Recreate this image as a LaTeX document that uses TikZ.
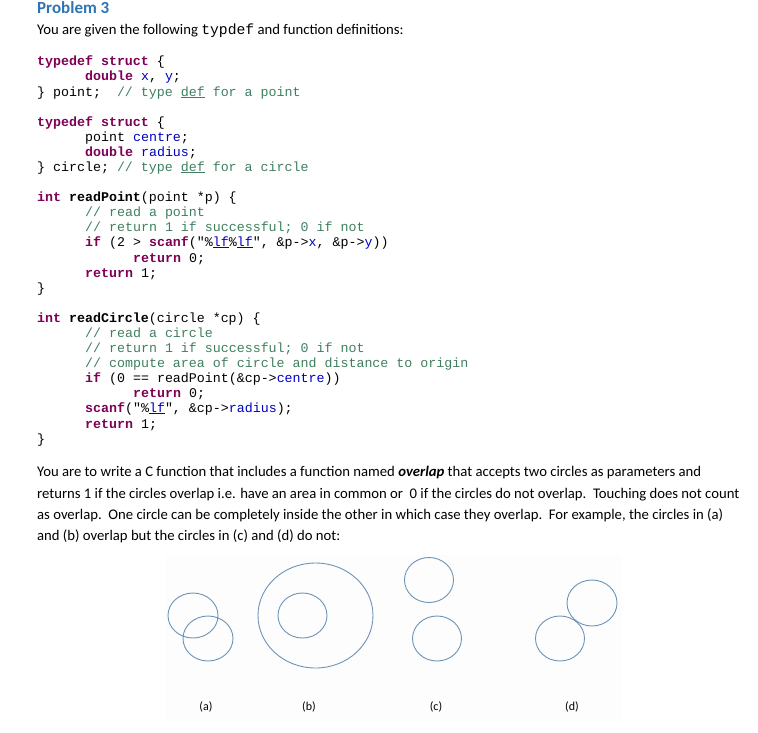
\documentclass[tikz,border=0pt]{standalone}
\usepackage{fontspec}
\setmainfont{Carlito}
\setmonofont{Liberation Mono}
\definecolor{kw}{HTML}{7F0055}
\definecolor{idb}{HTML}{0000C0}
\definecolor{cm}{HTML}{3F7F5F}
\definecolor{ttl}{HTML}{2E74B5}
\definecolor{circ}{HTML}{6F93B8}
\newcommand{\kw}[1]{\textcolor{kw}{\textbf{#1}}}
\newcommand{\idb}[1]{\textcolor{idb}{#1}}
\newcommand{\cmt}[1]{\textcolor{cm}{#1}}
\newcommand{\ug}[1]{\textcolor{cm}{\underline{#1}}}
\newcommand{\ub}[1]{\textcolor{idb}{\underline{#1}}}
\begin{document}
\begin{tikzpicture}[x=1pt,y=-1pt,
  codeline/.style={anchor=base west,inner sep=0pt,font=\fontsize{13.3}{15}\ttfamily},
  prose/.style={anchor=base west,inner sep=0pt,font=\fontsize{14.7}{17}\selectfont},
  ring/.style={draw=circ,line width=0.9pt},
  lbl/.style={inner sep=0pt,font=\fontsize{12}{14}\selectfont}]
\useasboundingbox (0,0) rectangle (758,732);
\fill[gray!1.5] (165,555) rectangle (622,722);
\node[anchor=base west,inner sep=0pt,font=\fontsize{17}{20}\bfseries,text=ttl] (title) at (37,13) {Problem 3};
\node[prose] (intro) at (37,34) {You are given the following \texttt{typdef} and function definitions:};
% code
\def\cx#1{37+8*#1}
\node[codeline] (l1) at (\cx{0},65) {\kw{typedef} \kw{struct} \{};
\node[codeline] (l2) at (\cx{6},80) {\kw{double} \idb{x}, \idb{y};};
\node[codeline] (l3) at (\cx{0},96) {\} point;\ \ \cmt{// type \ug{def} for a point}};
\node[codeline] (l4) at (\cx{0},126) {\kw{typedef} \kw{struct} \{};
\node[codeline] (l5) at (\cx{6},141) {point \idb{centre};};
\node[codeline] (l6) at (\cx{6},156) {\kw{double} \idb{radius};};
\node[codeline] (l7) at (\cx{0},171) {\} circle; \cmt{// type \ug{def} for a circle}};
\node[codeline] (l8) at (\cx{0},201) {\kw{int} \textbf{readPoint}(point *p) \{};
\node[codeline] (l9) at (\cx{6},216) {\cmt{// read a point}};
\node[codeline] (l10) at (\cx{6},231) {\cmt{// return 1 if successful; 0 if not}};
\node[codeline] (l11) at (\cx{6},246) {\kw{if} (2 > \kw{scanf}("\%\ub{lf}\%\ub{lf}", \&p->\idb{x}, \&p->\idb{y}))};
\node[codeline] (l12) at (\cx{12},262) {\kw{return} 0;};
\node[codeline] (l13) at (\cx{6},277) {\kw{return} 1;};
\node[codeline] (l14) at (\cx{0},292) {\}};
\node[codeline] (l15) at (\cx{0},322) {\kw{int} \textbf{readCircle}(circle *cp) \{};
\node[codeline] (l16) at (\cx{6},337) {\cmt{// read a circle}};
\node[codeline] (l17) at (\cx{6},352) {\cmt{// return 1 if successful; 0 if not}};
\node[codeline] (l18) at (\cx{6},367) {\cmt{// compute area of circle and distance to origin}};
\node[codeline] (l19) at (\cx{6},382) {\kw{if} (0 == readPoint(\&cp->\idb{centre}))};
\node[codeline] (l20) at (\cx{12},397) {\kw{return} 0;};
\node[codeline] (l21) at (\cx{6},412) {\kw{scanf}("\%\ub{lf}", \&cp->\idb{radius});};
\node[codeline] (l22) at (\cx{6},428) {\kw{return} 1;};
\node[codeline] (l23) at (\cx{0},443) {\}};
% paragraph
\node[prose] (p1) at (37,476) {You are to write a C function that includes a function named \textbf{\textit{overlap}} that accepts two circles as parameters and};
\node[prose] (p2) at (37,498) {returns 1 if the circles overlap i.e. have an area in common or\ \ 0 if the circles do not overlap.\ \ Touching does not count};
\node[prose] (p3) at (37,519) {as overlap.\ \ One circle can be completely inside the other in which case they overlap.\ \ For example, the circles in (a)};
\node[prose] (p4) at (37,540) {and (b) overlap but the circles in (c) and (d) do not:};
% circles
\draw[ring] (193,615.5) ellipse (25 and 22.5);
\draw[ring] (208,638.5) ellipse (25 and 22.5);
\draw[ring] (315.5,615.5) ellipse (57.5 and 52.5);
\draw[ring] (302.5,615.5) ellipse (24.5 and 22.5);
\draw[ring] (429,580) ellipse (24.5 and 22.5);
\draw[ring] (437,638.5) ellipse (24.5 and 22.5);
\draw[ring] (592,603) ellipse (25 and 23);
\draw[ring] (560,638.5) ellipse (24.5 and 22.5);
\node[lbl] (la) at (206,707) {(a)};
\node[lbl] (lb) at (309,707) {(b)};
\node[lbl] (lc) at (436,707) {(c)};
\node[lbl] (ld) at (572,707) {(d)};
\end{tikzpicture}
\end{document}
